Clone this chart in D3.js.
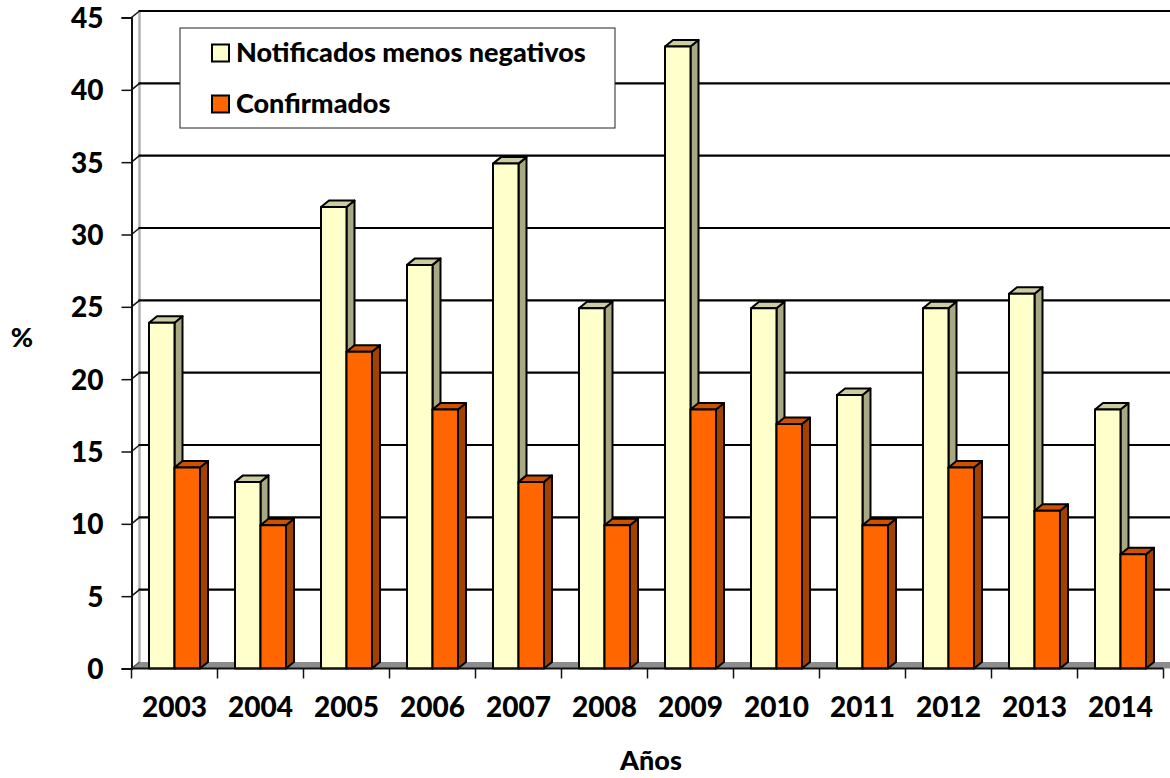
<!DOCTYPE html>
<html><head><meta charset="utf-8">
<script src="https://cdn.jsdelivr.net/npm/d3@7/dist/d3.min.js"></script>
<style>html,body{margin:0;padding:0;background:#fff}svg{display:block}text{font-family:Lato,sans-serif;font-weight:900;fill:#000}</style>
</head><body><svg id="c" width="1170" height="778"></svg>
<script>
const years=["2003","2004","2005","2006","2007","2008","2009","2010","2011","2012","2013","2014"];
const notificados=[23.9,12.9,31.9,27.9,34.9,24.9,43,24.9,18.9,24.9,25.9,17.9];
const confirmados=[13.9,9.9,21.9,17.9,12.9,9.9,17.9,16.9,9.9,13.9,10.9,7.9];
const seriesNames=["Notificados menos negativos","Confirmados"];
const yTicks=[0,5,10,15,20,25,30,35,40,45];
const W=1170,H=778,dx=8,dy=-6.5;
const svg=d3.select("#c");
const y=d3.scaleLinear().domain([0,45]).range([668.5,17.5]);
const x=d3.scaleBand().domain(years).range([131.5,1163.5]).paddingInner(0.407).paddingOuter(0.2035);
const x1=d3.scaleBand().domain([0,1]).range([0,x.bandwidth()]);
const x0=x.range()[0],x9=x.range()[1];
const fills=[{f:"#ffffcc",t:"#cccca3",s:"#a8a882"},{f:"#ff6600",t:"#cc5200",s:"#a34200"}];
const line=(a,b,c,d,col,w)=>svg.append("line").attr("x1",a).attr("y1",b).attr("x2",c).attr("y2",d).attr("stroke",col).attr("stroke-width",w);

// floor
svg.append("path").attr("d",`M${x0},${y(0)}L${x0+dx},${y(0)+dy}L${W},${y(0)+dy}L${W},${y(0)}Z`).attr("fill","#8c8c8c");
// back wall left edge
line(x0+dx,y(45)+dy,x0+dx,y(0)+dy,"#b0b0b0",2.5);
// gridlines
yTicks.filter(d=>d>0).forEach(d=>{
  line(x0+dx-1,y(d)+dy,W,y(d)+dy,"#000",2.2);
  line(x0,y(d),x0+dx,y(d)+dy,"#111",1.5);
});
line(x0,y(0),x0+dx,y(0)+dy,"#555",1.5);
// value axis
const ya=svg.append("g").attr("transform",`translate(${x0},0)`).call(d3.axisLeft(y).tickValues(yTicks).tickSize(10).tickPadding(18).tickFormat(d3.format("d")));
ya.select(".domain").attr("stroke","#111").attr("stroke-width",2);
ya.selectAll("line").attr("stroke","#111").attr("stroke-width",1.5);
ya.selectAll("text").style("font-size","28px").style("font-family","Lato,sans-serif").attr("dy","0.36em");
// bars
const g=svg.append("g").selectAll("g").data(years).join("g").attr("transform",d=>`translate(${x(d)},0)`);
[notificados,confirmados].forEach((vals,s)=>{
  const bw=x1.bandwidth(),c=fills[s];
  const b=g.append("g").datum((d,i)=>vals[i]).attr("stroke","#000").attr("stroke-width",2).attr("stroke-linejoin","round");
  b.append("path").attr("fill",c.s).attr("d",v=>`M${x1(s)+bw},${y(v)}l${dx},${dy}V${y(0)+dy}L${x1(s)+bw},${y(0)}Z`);
  b.append("path").attr("fill",c.t).attr("d",v=>`M${x1(s)},${y(v)}l${dx},${dy}h${bw}l${-dx},${-dy}Z`);
  b.append("rect").attr("fill",c.f).attr("x",x1(s)).attr("width",bw).attr("y",v=>y(v)).attr("height",v=>y(0)-y(v));
});
// category axis
const xa=svg.append("g").attr("transform",`translate(0,${y(0)})`).call(
  d3.axisBottom(x).tickSize(0).tickPadding(29));
xa.select(".domain").remove();
xa.selectAll("text").style("font-size","28px").style("font-family","Lato,sans-serif");
line(x0,y(0),x9,y(0),"#111",2);
d3.range(years.length+1).forEach(i=>{const p=x0+i*x.step();line(p,y(0),p,y(0)+10,"#111",1.5);});
// axis titles
svg.append("text").attr("x",22).attr("y",347).attr("text-anchor","middle").style("font-size","27px").text("%");
svg.append("text").attr("x",651).attr("y",770).attr("text-anchor","middle").style("font-size","27px").text("Años");
// legend
svg.append("rect").attr("x",180).attr("y",28).attr("width",435).attr("height",100).attr("fill","#fff").attr("stroke","#222").attr("stroke-width",1);
seriesNames.forEach((n,i)=>{
  const ly=53+i*51;
  svg.append("rect").attr("x",212).attr("y",ly-8.5).attr("width",17).attr("height",17).attr("fill",fills[i].f).attr("stroke","#000").attr("stroke-width",2);
  svg.append("text").attr("x",236).attr("y",ly+9).style("font-size","27px").text(n);
});
</script></body></html>
